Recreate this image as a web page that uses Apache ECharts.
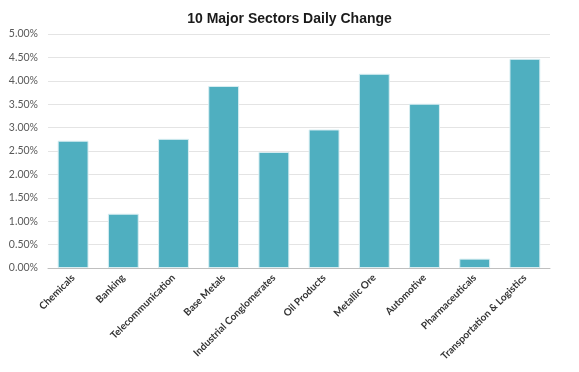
<!DOCTYPE html>
<html><head><meta charset="utf-8">
<script src="https://cdn.jsdelivr.net/npm/echarts@6/dist/echarts.min.js"></script>
<style>html,body{margin:0;padding:0;background:#fff}#c{width:579px;height:372px}</style>
</head><body><div id="c"></div>
<script>
const categories = ["Chemicals","Banking","Telecommunication","Base Metals","Industrial Conglomerates","Oil Products","Metallic Ore","Automotive","Pharmaceuticals","Transportation & Logistics"];
const values = [2.72, 1.16, 2.76, 3.89, 2.48, 2.96, 4.15, 3.51, 0.20, 4.47];
const title = "10 Major Sectors Daily Change";

const chart = echarts.init(document.getElementById('c'));
chart.setOption({
  animation: false,
  title: { text: title, left: 'center', top: 7,
    textStyle: { fontFamily: 'Liberation Sans', fontWeight: 'bold', fontSize: 14, color: '#1a1a1a' } },
  grid: { left: 48, right: 29, top: 34, bottom: 104, containLabel: false },
  xAxis: { type: 'category', data: categories,
    axisLine: { lineStyle: { color: '#BFBFBF', width: 1 } },
    axisTick: { show: false },
    axisLabel: { rotate: 45, interval: 0, margin: 8, fontFamily: 'Lato', fontSize: 10, fontWeight: 'bold', color: '#333333' } },
  yAxis: { type: 'value', min: 0, max: 5, interval: 0.5,
    axisLine: { show: false }, axisTick: { show: false },
    splitLine: { lineStyle: { color: '#E4E4E4', width: 1 } },
    axisLabel: { formatter: v => v.toFixed(2) + '%', fontFamily: 'Lato', fontSize: 10.5, color: '#595959', margin: 10 } },
  series: [{ type: 'bar', data: values, barWidth: '61.5%',
    itemStyle: { color: '#4FAFC0', borderColor: '#D9EEF2', borderWidth: 1 } }]
});
</script></body></html>
